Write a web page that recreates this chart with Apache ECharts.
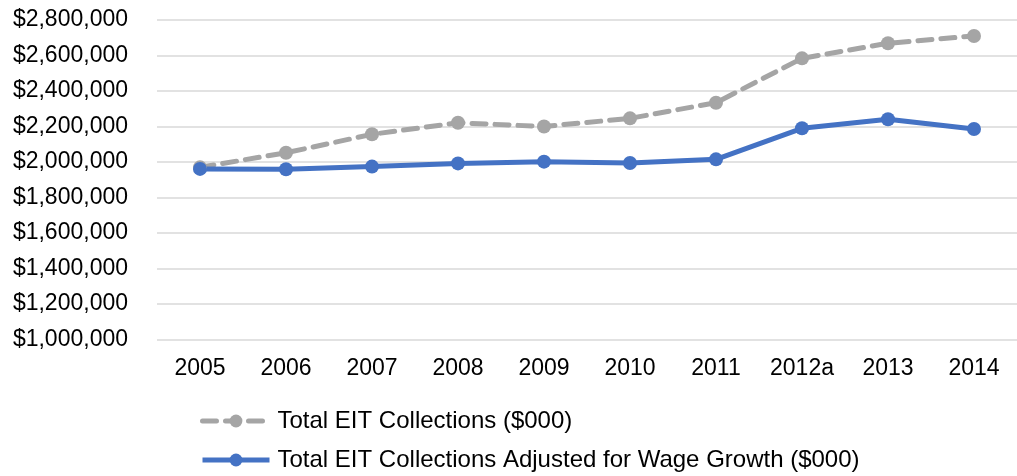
<!DOCTYPE html>
<html><head><meta charset="utf-8">
<script src="https://cdn.jsdelivr.net/npm/echarts@6/dist/echarts.min.js"></script>
<style>html,body{margin:0;padding:0;background:#fff}#c{width:1017px;height:476px}</style>
</head><body><div id="c"></div>
<script>
var categories = ['2005','2006','2007','2008','2009','2010','2011','2012a','2013','2014'];
var totalEIT = [1970000,2052000,2156000,2221000,2200000,2246000,2334000,2584000,2669000,2710000];
var adjustedEIT = [1961000,1959000,1974000,1992000,2002000,1994000,2015000,2190000,2241000,2186000];
var seriesNames = ['Total EIT Collections ($000)','Total EIT Collections Adjusted for Wage Growth ($000)'];
var yMin = 1000000, yMax = 2800000, yStep = 200000;

var chart = echarts.init(document.getElementById('c'));
var font = 'Liberation Sans, Arial, sans-serif';
chart.setOption({
  animation: false,
  grid: {left: 157, top: 20, width: 872, height: 319.5, containLabel: false},
  xAxis: {
    type: 'category', data: categories, boundaryGap: true,
    axisLine: {show: false}, axisTick: {show: false},
    axisLabel: {color: '#000', fontSize: 23, fontFamily: font, margin: 18}
  },
  yAxis: {
    type: 'value', min: yMin, max: yMax, interval: yStep,
    axisLine: {show: false}, axisTick: {show: false},
    splitLine: {lineStyle: {color: '#d9d9d9', width: 1.5}},
    axisLabel: {color: '#000', fontSize: 23, fontFamily: font, margin: 29,
      formatter: function(v){ return '$' + v.toLocaleString('en-US'); }}
  },
  legend: {
    orient: 'vertical', left: 195, top: 404, height: 72, itemWidth: 67, itemHeight: 16, itemGap: 15,
    textStyle: {color: '#000', fontSize: 24, fontFamily: font, padding: [0,0,0,3]},
    data: [
      {name: seriesNames[0], lineStyle: {width: 5}},
      {name: seriesNames[1], lineStyle: {width: 5}}
    ]
  },
  series: [
    {name: seriesNames[0], type: 'line', data: totalEIT, symbol: 'circle', symbolSize: 14,
      itemStyle: {color: '#a5a5a5'}, lineStyle: {color: '#a5a5a5', width: 5, type: [14, 9], cap: 'round'}},
    {name: seriesNames[1], type: 'line', data: adjustedEIT, symbol: 'circle', symbolSize: 14,
      itemStyle: {color: '#4472c4'}, lineStyle: {color: '#4472c4', width: 5}}
  ]
});
</script></body></html>
